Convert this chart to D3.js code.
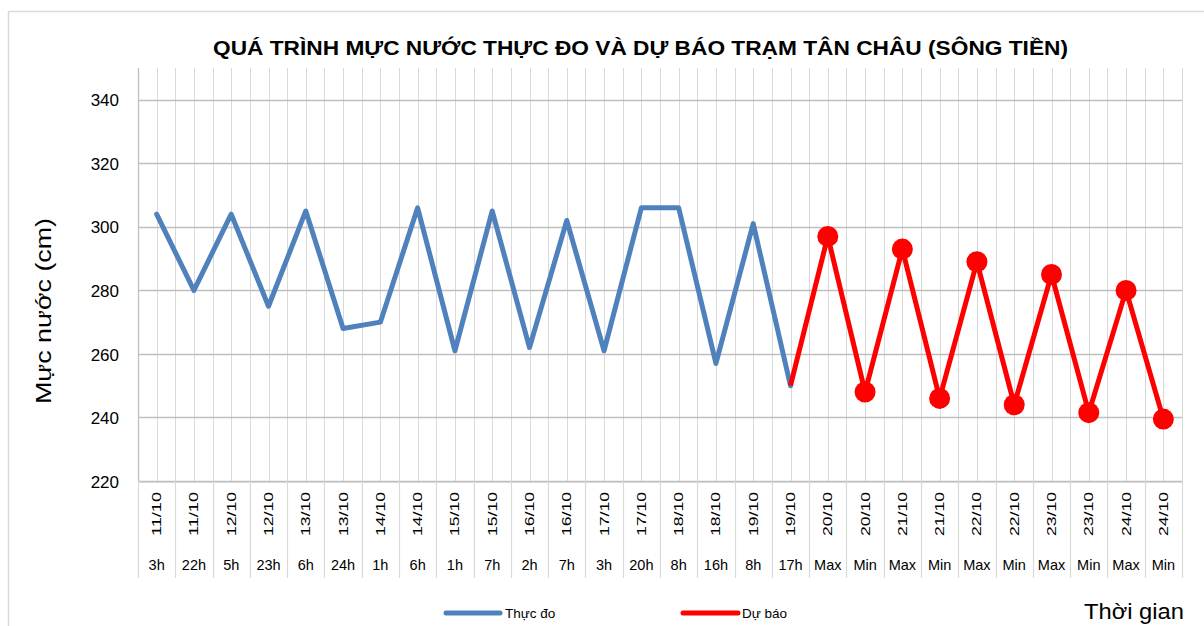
<!DOCTYPE html>
<html>
<head>
<meta charset="utf-8">
<script src="https://cdn.jsdelivr.net/npm/d3@7/dist/d3.min.js"></script>
<style>
  html, body { margin: 0; padding: 0; background: #fff; }
  svg { display: block; }
  text { font-family: "Liberation Sans", Arial, sans-serif; fill: #000; }
</style>
</head>
<body>
<svg id="chart" width="1204" height="626"></svg>
<script>
// ---- Data ----
const dates = ["11/10","11/10","12/10","12/10","13/10","13/10","14/10","14/10","15/10","15/10","16/10","16/10","17/10","17/10","18/10","18/10","19/10","19/10","20/10","20/10","21/10","21/10","22/10","22/10","23/10","23/10","24/10","24/10"];
const hours = ["3h","22h","5h","23h","6h","24h","1h","6h","1h","7h","2h","7h","3h","20h","8h","16h","8h","17h","Max","Min","Max","Min","Max","Min","Max","Min","Max","Min"];
const observed = [304, 280, 304, 275, 305, 268, 270, 306, 261, 305, 262, 302, 261, 306, 306, 257, 301, 250];
const forecastStart = 17;
const forecast = [250, 297, 248, 293, 246, 289, 244, 285, 241.5, 280, 239.5];
const yTicks = [220, 240, 260, 280, 300, 320, 340];
const title = "QUÁ TRÌNH MỰC NƯỚC THỰC ĐO VÀ DỰ BÁO TRẠM TÂN CHÂU (SÔNG TIỀN)";
const yTitle = "Mực nước (cm)";
const xTitle = "Thời gian";
const legendLabels = ["Thực đo", "Dự báo"];

// ---- Layout ----
const svg = d3.select("#chart");
const plotL = 138, plotR = 1182, plotT = 68, plotB = 481;
const tableB = 578;
const blue = "#4F81BD", red = "#FF0000";

// chart border
svg.append("rect").attr("x", 8.5).attr("y", 11.5).attr("width", 1210).attr("height", 640)
  .attr("fill", "none").attr("stroke", "#D9D9D9").attr("stroke-width", 1.5);

const idx = d3.range(dates.length);
const x = d3.scaleBand().domain(idx).range([plotL, plotR]).padding(0);
const bw = x.bandwidth();
const cx = i => x(i) + bw / 2;
const y = d3.scaleLinear().domain([220, 350]).range([plotB, plotT]);

// vertical gridlines at every half category
const halfSteps = d3.range(0, dates.length * 2 + 1).map(k => plotL + k * bw / 2);
svg.append("g").selectAll("line").data(halfSteps).join("line")
  .attr("x1", d => Math.round(d) + 0.5).attr("x2", d => Math.round(d) + 0.5)
  .attr("y1", plotT).attr("y2", plotB)
  .attr("stroke", "#D9D9D9").attr("stroke-width", 1);

// horizontal gridlines
svg.append("g").selectAll("line").data(yTicks).join("line")
  .attr("x1", plotL).attr("x2", plotR)
  .attr("y1", d => Math.round(y(d)) + 0.5).attr("y2", d => Math.round(y(d)) + 0.5)
  .attr("stroke", "#BFBFBF").attr("stroke-width", 1.3);

// y axis line
svg.append("line").attr("x1", plotL + 0.5).attr("x2", plotL + 0.5).attr("y1", plotT).attr("y2", plotB)
  .attr("stroke", "#BFBFBF").attr("stroke-width", 1.3);

// y axis via d3 axis (labels only)
const yAxis = svg.append("g").attr("transform", `translate(${plotL - 19},0)`)
  .call(d3.axisLeft(y).tickValues(yTicks).tickSize(0).tickPadding(0));
yAxis.select(".domain").remove();
yAxis.selectAll("text").attr("font-size", 17).attr("font-family", "Liberation Sans, Arial, sans-serif")
  .attr("fill", "#000").attr("dy", "0.36em");

// category table separators
svg.append("g").selectAll("line").data(d3.range(dates.length + 1)).join("line")
  .attr("x1", i => Math.round(plotL + i * bw) + 0.5).attr("x2", i => Math.round(plotL + i * bw) + 0.5)
  .attr("y1", plotB).attr("y2", tableB)
  .attr("stroke", "#D9D9D9").attr("stroke-width", 1.2);
svg.append("line").attr("x1", plotL).attr("x2", plotR).attr("y1", plotB + 1.5).attr("y2", plotB + 1.5)
  .attr("stroke", "#D9D9D9").attr("stroke-width", 1.2);

// date labels (rotated)
svg.append("g").selectAll("text").data(idx).join("text")
  .attr("transform", i => `translate(${cx(i)},514) rotate(-90)`)
  .attr("text-anchor", "middle").attr("dominant-baseline", "central")
  .attr("font-size", 13.5).attr("textLength", 44).attr("lengthAdjust", "spacingAndGlyphs")
  .text(i => dates[i]);

// hour labels
svg.append("g").selectAll("text").data(idx).join("text")
  .attr("x", i => cx(i)).attr("y", 570)
  .attr("text-anchor", "middle").attr("font-size", 14.5)
  .text(i => hours[i]);

// lines
const line = d3.line().x(d => cx(d.i)).y(d => y(d.v));
const obsData = observed.map((v, i) => ({ i, v }));
const fcData = forecast.map((v, k) => ({ i: forecastStart + k, v }));

svg.append("path").datum(obsData).attr("d", line)
  .attr("fill", "none").attr("stroke", blue).attr("stroke-width", 5)
  .attr("stroke-linejoin", "round").attr("stroke-linecap", "round");

svg.append("path").datum(fcData).attr("d", line)
  .attr("fill", "none").attr("stroke", red).attr("stroke-width", 5)
  .attr("stroke-linejoin", "round");

svg.append("g").selectAll("circle").data(fcData.slice(1)).join("circle")
  .attr("cx", d => cx(d.i)).attr("cy", d => y(d.v)).attr("r", 10.5)
  .attr("fill", red);

// title
svg.append("text").attr("x", 640.5).attr("y", 55).attr("text-anchor", "middle")
  .attr("font-size", 19.5).attr("font-weight", "bold")
  .attr("textLength", 855).attr("lengthAdjust", "spacingAndGlyphs")
  .text(title);

// y title
svg.append("text").attr("transform", "translate(51,311) rotate(-90)")
  .attr("text-anchor", "middle").attr("font-size", 22)
  .attr("textLength", 186).attr("lengthAdjust", "spacingAndGlyphs")
  .text(yTitle);

// x title
svg.append("text").attr("x", 1084).attr("y", 619)
  .attr("font-size", 22).attr("textLength", 100).attr("lengthAdjust", "spacingAndGlyphs")
  .text(xTitle);

// legend
const legend = [
  { label: legendLabels[0], color: blue, x1: 446, x2: 500, tx: 505 },
  { label: legendLabels[1], color: red, x1: 683, x2: 738, tx: 742 }
];
const lg = svg.append("g");
legend.forEach(l => {
  lg.append("line").attr("x1", l.x1).attr("x2", l.x2).attr("y1", 613).attr("y2", 613)
    .attr("stroke", l.color).attr("stroke-width", 5).attr("stroke-linecap", "round");
  lg.append("text").attr("x", l.tx).attr("y", 618).attr("font-size", 13.5).text(l.label);
});
</script>
</body>
</html>
